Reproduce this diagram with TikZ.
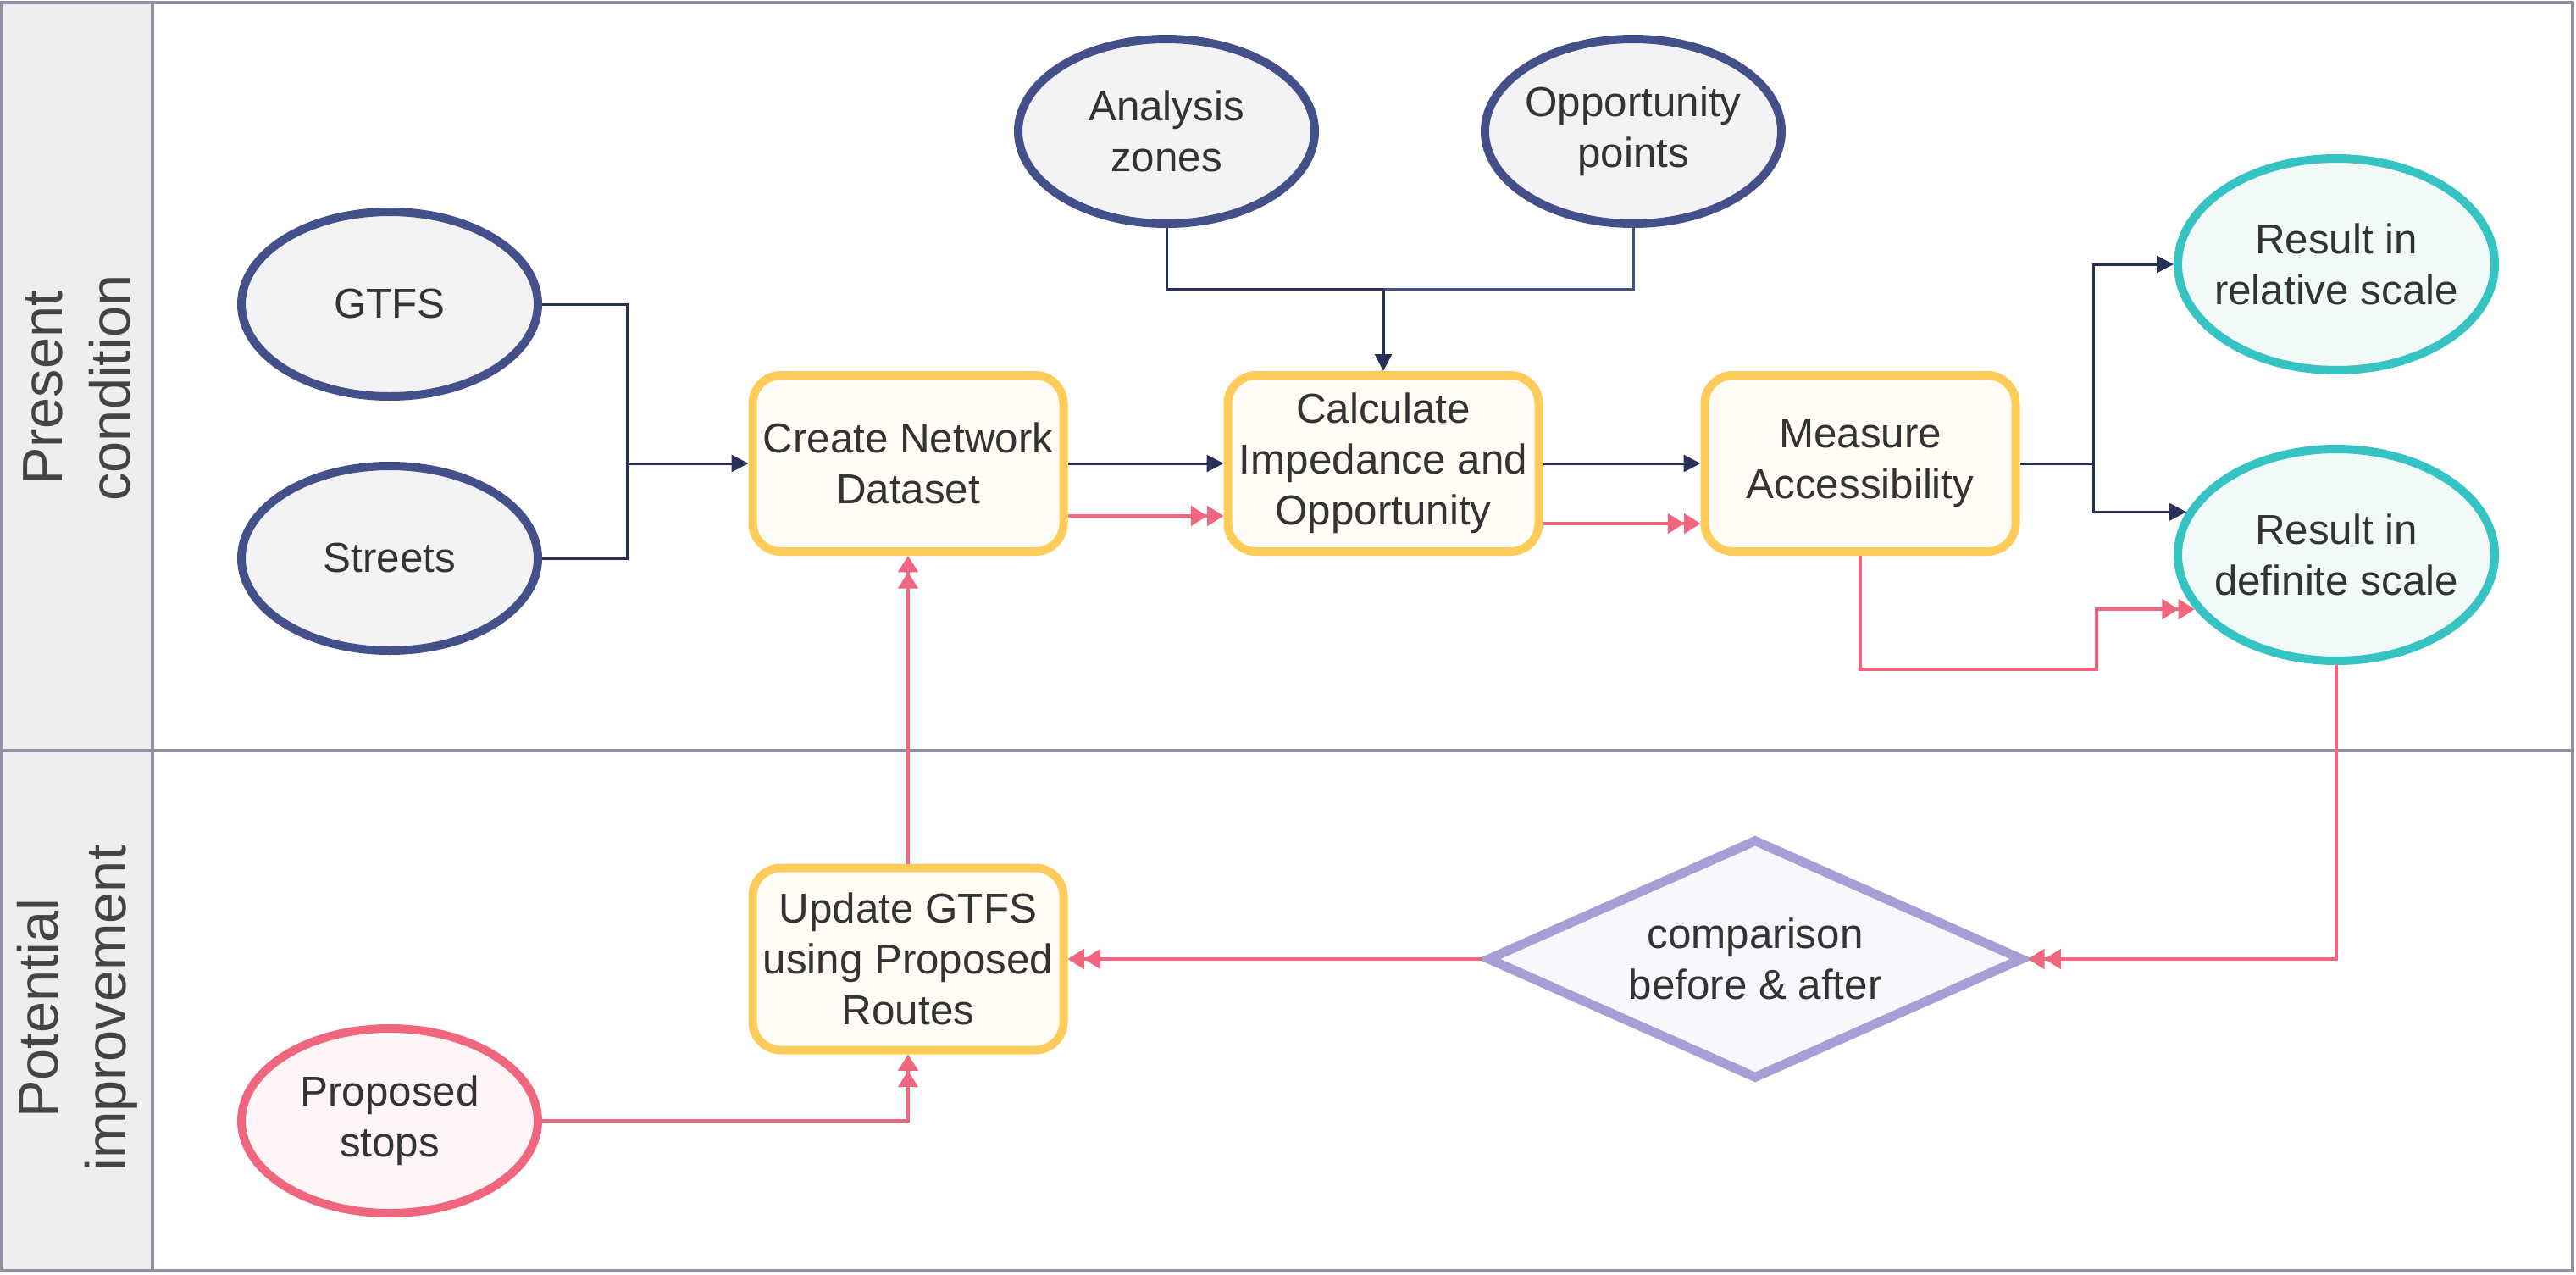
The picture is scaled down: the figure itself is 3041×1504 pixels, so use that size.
\documentclass[tikz,border=0pt]{standalone}
\usepackage{fontspec}
\setmainfont{Liberation Sans}
\usetikzlibrary{shapes.geometric,arrows.meta,calc}
\definecolor{navy}{HTML}{43508A}
\definecolor{navyline}{HTML}{283058}
\definecolor{navyfill}{HTML}{F3F3F6}
\definecolor{boxline}{HTML}{FFCC5A}
\definecolor{boxfill}{HTML}{FFFCF5}
\definecolor{redline}{HTML}{F0667F}
\definecolor{redfill}{HTML}{FFF4F6}
\definecolor{tealline}{HTML}{36C3C3}
\definecolor{tealfill}{HTML}{F2F9F9}
\definecolor{dialine}{HTML}{A59FD6}
\definecolor{diafill}{HTML}{F7F7FC}
\definecolor{laneline}{HTML}{9090A2}
\definecolor{lanefill}{HTML}{EEEEF0}
\definecolor{txt}{HTML}{333333}
\definecolor{headtxt}{HTML}{444444}
\begin{document}
\begin{tikzpicture}[x=0.3pt,y=-0.3pt,
  nodefont/.style={font=\fontsize{14.8pt}{18pt}\selectfont, text=txt, align=center},
  inell/.style={nodefont, ellipse, draw=navy, fill=navyfill, line width=3pt,
    minimum width=105pt, minimum height=65.4pt, inner xsep=-8pt, inner ysep=0pt},
  stopell/.style={inell, draw=redline, fill=redfill},
  resell/.style={nodefont, ellipse, draw=tealline, fill=tealfill, line width=3pt,
    minimum width=112.2pt, minimum height=75pt, inner xsep=-8pt, inner ysep=0pt},
  procbox/.style={nodefont, rectangle, rounded corners=10pt, draw=boxline, fill=boxfill,
    line width=3pt, minimum width=110.1pt, minimum height=62.4pt, inner sep=2pt},
  decide/.style={nodefont, diamond, draw=dialine, fill=diafill, line width=3.3pt,
    minimum width=190pt, minimum height=85pt, aspect=2.24, inner sep=0pt},
  headtext/.style={font=\fontsize{20pt}{24pt}\selectfont, text=headtxt, align=center, rotate=90},
  dline/.style={draw=navyline, line width=0.9pt},
  dline2/.style={draw=navy, line width=0.9pt},
  darrow/.style={dline, -{Triangle[length=6pt,width=6pt]}},
  rarrow/.style={draw=redline, line width=1.2pt,
    -{Triangle[length=5.8pt,width=7pt]Triangle[length=5.8pt,width=7pt]}}
]
\useasboundingbox (0,0) rectangle (3041,1504);
% lanes
\fill[lanefill] (2,3) rectangle (180,1500);
\draw[laneline, line width=1pt] (2,3) rectangle (3037,1500);
\draw[laneline, line width=1pt] (180,3) -- (180,1500);
\draw[laneline, line width=1pt] (2,886) -- (3037,886);
\node[headtext] (h1) at (91,458) {Present\\condition};
\node[headtext] (h2) at (91,1190) {Potential\\improvement};

% nodes
\node[inell] (gtfs) at (460,359) {GTFS};
\node[inell] (streets) at (460,659) {Streets};
\node[inell] (zones) at (1377,155) {Analysis\\zones};
\node[inell] (opp) at (1928,155) {Opportunity\\points};
\node[procbox] (create) at (1072,547) {Create Network\\Dataset};
\node[procbox] (calc) at (1633,547) {Calculate\\Impedance and\\Opportunity};
\node[procbox] (measure) at (2196,547) {Measure\\Accessibility};
\node[resell] (rel) at (2758,312) {Result in\\relative scale};
\node[resell] (def) at (2758,655) {Result in\\definite scale};
\node[procbox, minimum height=64.5pt] (update) at (1072,1132) {Update GTFS\\using Proposed\\Routes};
\node[stopell] (stops) at (460,1323) {Proposed\\stops};
\node[decide] (cmp) at (2072,1132) {comparison\\before \& after};

% dark connectors
\coordinate (j1) at (740,547);
\draw[dline] (gtfs.east) -| (j1);
\draw[dline] (streets.east) -| (j1);
\draw[darrow] (j1) -- (create.west);
\draw[darrow] (create.east) -- (calc.west);
\draw[darrow] (calc.east) -- (measure.west);
\coordinate (j2) at ($(calc.north |- 0,341)$);
\draw[dline] (zones.south) |- (j2);
\draw[dline2] (opp.south) |- (j2);
\draw[darrow] (j2) -- (calc.north);
\coordinate (j3) at (2471,547);
\draw[dline] (measure.east) -- (j3);
\draw[darrow] (j3) |- (rel.west);
\draw[darrow] (j3) |- (def.164.6);

% red connectors
\draw[rarrow] ([yshift=-18.6pt]create.east) -- ([yshift=-18.6pt]calc.west);
\draw[rarrow] ([yshift=-21.3pt]calc.east) -- ([yshift=-21.3pt]measure.west);
\coordinate (k1) at (2475,790);
\draw[rarrow] (measure.south) |- (k1) |- (def.201.8);
\draw[rarrow] (def.south) |- (cmp.east);
\draw[rarrow] (cmp.west) -- (update.east);
\draw[rarrow] (update.north) -- (create.south);
\draw[rarrow] (stops.east) -| (update.south);
\end{tikzpicture}
\end{document}
